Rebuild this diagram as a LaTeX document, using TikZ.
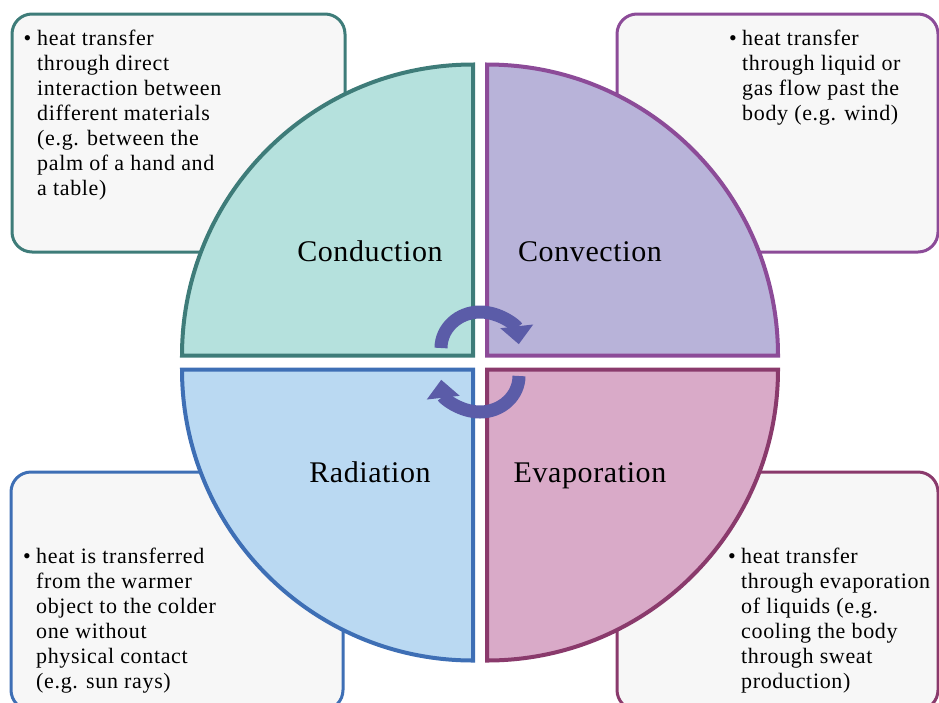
\documentclass[tikz,border=0pt]{standalone}
\usepackage{fontspec}
\setmainfont{Liberation Serif}
\usetikzlibrary{arrows.meta}

% palette
\definecolor{boxfill}{HTML}{F7F7F7}
\definecolor{condfill}{HTML}{B5E1DD}
\definecolor{conddraw}{HTML}{3E7C79}
\definecolor{convfill}{HTML}{B8B3D9}
\definecolor{convdraw}{HTML}{8C4B98}
\definecolor{radfill}{HTML}{BAD9F2}
\definecolor{raddraw}{HTML}{3E6FB5}
\definecolor{evapfill}{HTML}{D9AAC8}
\definecolor{evapdraw}{HTML}{8A3A6C}
\definecolor{cyclecol}{HTML}{5B5CA8}

\newcommand{\descfont}{\addfontfeatures{LetterSpace=3}\fontsize{22}{25}\selectfont}
\newcommand{\quadfont}{\addfontfeatures{LetterSpace=2}\fontsize{30}{34}\selectfont}

\begin{document}
\begin{tikzpicture}[x=1pt,y=-1pt,
  infobox/.style={fill=boxfill,line width=3pt,rounded corners=20pt},
  quadrant/.style={line width=4pt,line join=miter},
  desc/.style={anchor=north west,inner sep=0pt,align=left,font=\descfont},
  bulletmark/.style={anchor=base,inner sep=0pt,font=\descfont},
  quadlabel/.style={anchor=base,inner sep=0pt,font=\quadfont},
  cyclearrow/.style={draw=cyclecol,line width=13pt,
    -{Triangle[length=18pt,width=32pt]}}]
\useasboundingbox (0,0) rectangle (939,702);

% description panels behind the disc
\draw[infobox,draw=conddraw] (12,14) rectangle (345,252);
\draw[infobox,draw=convdraw] (617,14) rectangle (938,252);
\draw[infobox,draw=raddraw]  (11,472) rectangle (343,710);
\draw[infobox,draw=evapdraw] (617,472) rectangle (938,710);

% the four quarter discs
\coordinate (cA) at (473,355.5);
\coordinate (cB) at (487,355.5);
\coordinate (cC) at (473,369.5);
\coordinate (cD) at (487,369.5);
\draw[quadrant,fill=condfill,draw=conddraw]
  (cA) -- ++(-291,0) arc[start angle=180,end angle=270,radius=291] -- cycle;
\draw[quadrant,fill=convfill,draw=convdraw]
  (cB) -- ++(0,-291) arc[start angle=270,end angle=360,radius=291] -- cycle;
\draw[quadrant,fill=radfill,draw=raddraw]
  (cC) -- ++(-291,0) arc[start angle=180,end angle=90,radius=291] -- cycle;
\draw[quadrant,fill=evapfill,draw=evapdraw]
  (cD) -- ++(291,0) arc[start angle=0,end angle=90,radius=291] -- cycle;

% cycle arrows in the middle
\coordinate (upstart) at (441,348);
\coordinate (lowstart) at (519,376);
\draw[cyclearrow] (upstart)
  arc[start angle=180,end angle=354,x radius=39,y radius=36];
\draw[cyclearrow] (lowstart)
  arc[start angle=0,end angle=174,x radius=39,y radius=36];

% quadrant titles
\node[quadlabel] (tcond) at (370,261) {Conduction};
\node[quadlabel] (tconv) at (590,261) {Convection};
\node[quadlabel] (trad)  at (370,482) {Radiation};
\node[quadlabel] (tevap) at (590,482) {Evaporation};

% descriptions
\node[bulletmark] (bcond) at (27.5,45) {\textbullet};
\node[desc] (dcond) at (37,27.5) {\strut heat transfer\\through direct\\interaction between\\different materials\\(e.g. between the\\palm of a hand and\\a table)};

\node[bulletmark] (bconv) at (733,45) {\textbullet};
\node[desc] (dconv) at (742,27.5) {\strut heat transfer\\through liquid or\\gas flow past the\\body (e.g. wind)};

\node[bulletmark] (brad) at (27,563) {\textbullet};
\node[desc] (drad) at (36,545.5) {\strut heat is transferred\\from the warmer\\object to the colder\\one without\\physical contact\\(e.g. sun rays)};

\node[bulletmark] (bevap) at (732,563) {\textbullet};
\node[desc] (devap) at (741,545.5) {\strut heat transfer\\through evaporation\\of liquids (e.g.\\cooling the body\\through sweat\\production)};
\end{tikzpicture}
\end{document}
